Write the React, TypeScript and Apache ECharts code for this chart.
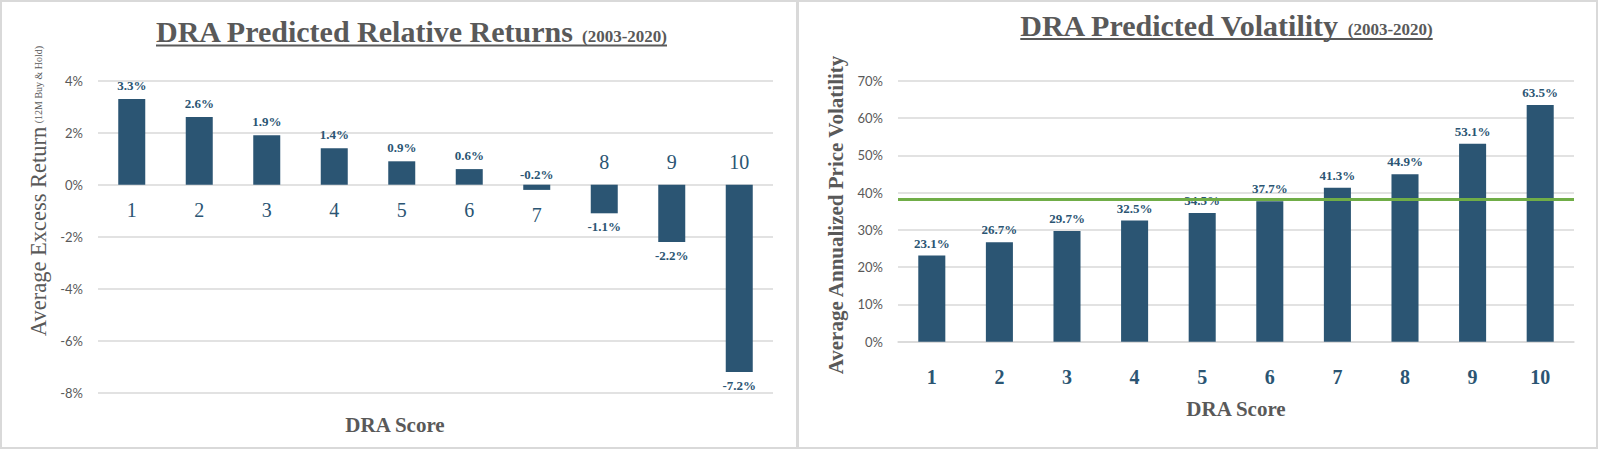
import React, { useEffect, useRef } from 'react';
import * as echarts from 'echarts';

// ---------- data ----------
const categories = ['1', '2', '3', '4', '5', '6', '7', '8', '9', '10'];
const excessReturns = [3.3, 2.6, 1.9, 1.4, 0.9, 0.6, -0.2, -1.1, -2.2, -7.2];
const volatility = [23.1, 26.7, 29.7, 32.5, 34.5, 37.7, 41.3, 44.9, 53.1, 63.5];
const averageVolatility = 38.3;
const returnAxis = { min: -8, max: 4, interval: 2 };
const volatilityAxis = { min: 0, max: 70, interval: 10 };

const leftTitle = 'DRA Predicted Relative Returns';
const rightTitle = 'DRA Predicted Volatility';
const titlePeriod = '(2003-2020)';
const leftYName = 'Average Excess Return';
const leftYNameNote = '(12M Buy & Hold)';
const rightYName = 'Average Annualized Price Volatility';
const xName = 'DRA Score';

// ---------- styles ----------
const BAR = '#2B5573';
const GRID = '#D9D9D9';
const GREY = '#595959';
const GREEN = '#70AD47';
const SERIF = '"Liberation Serif", "DejaVu Serif", serif';
const SANS = 'Lato, "Open Sans", sans-serif';

// a bar that lies clearly below zero keeps its category label above the zero line
const isDeepNegative = (v: number) => v <= -0.5;

function measure(text: string, font: string): number {
  const ctx = document.createElement('canvas').getContext('2d');
  if (!ctx) return text.length * 10;
  ctx.font = font;
  return ctx.measureText(text).width;
}

function titleGraphic(cx: number, baseline: number, main: string, mainSize: number, sub: string, subSize: number) {
  const mainW = measure(main, `bold ${mainSize}px "Liberation Serif"`);
  const subW = measure(sub, `bold ${subSize}px "Liberation Serif"`);
  const gap = mainSize * 0.25;
  const total = mainW + gap + subW;
  const x0 = cx - total / 2;
  return [
    {
      type: 'text',
      x: x0,
      y: baseline - mainSize * 0.34,
      style: { text: main, fontFamily: SERIF, fontWeight: 'bold', fontSize: mainSize, fill: GREY, align: 'left', verticalAlign: 'middle' },
    },
    {
      type: 'text',
      x: x0 + mainW + gap,
      y: baseline - subSize * 0.34,
      style: { text: sub, fontFamily: SERIF, fontWeight: 'bold', fontSize: subSize, fill: GREY, align: 'left', verticalAlign: 'middle' },
    },
    {
      type: 'line',
      shape: { x1: x0, y1: baseline + 3.5, x2: x0 + total, y2: baseline + 3.5 },
      style: { stroke: GREY, lineWidth: 2 },
    },
  ];
}

function buildOption() {
  const valueLabel = (p: any) => `${Number(p.value).toFixed(1)}%`;
  const yAxisCommon = {
    type: 'value',
    axisLine: { show: false },
    axisTick: { show: false },
    splitLine: { lineStyle: { color: GRID, width: 1.5 } },
    axisLabel: { formatter: '{value}%', color: GREY, fontFamily: SANS, fontSize: 13, margin: 15 },
  };

  return {
    animation: false,
    backgroundColor: '#FFFFFF',
    grid: [
      { left: 98, right: 827, top: 80.7, bottom: 60.3, outerBoundsMode: 'none' },
      { left: 898, right: 26, top: 80.7, bottom: 111.3, outerBoundsMode: 'none' },
    ],
    xAxis: [
      {
        // category names of the returns chart are drawn at the zero line by the label series below
        gridIndex: 0,
        type: 'category',
        data: categories,
        axisLine: { show: false },
        axisTick: { show: false },
        axisLabel: { show: false },
      },
      {
        gridIndex: 1,
        type: 'category',
        data: categories,
        axisLine: { lineStyle: { color: GRID, width: 1.5 } },
        axisTick: { show: false },
        axisLabel: { interval: 0, margin: 25, color: BAR, fontFamily: SERIF, fontWeight: 'bold', fontSize: 20 },
      },
    ],
    yAxis: [
      { ...yAxisCommon, gridIndex: 0, min: returnAxis.min, max: returnAxis.max, interval: returnAxis.interval },
      { ...yAxisCommon, gridIndex: 1, min: volatilityAxis.min, max: volatilityAxis.max, interval: volatilityAxis.interval },
    ],
    series: [
      {
        name: 'Average Excess Return',
        type: 'bar',
        xAxisIndex: 0,
        yAxisIndex: 0,
        barWidth: '40%',
        itemStyle: { color: BAR },
        label: { show: true, formatter: valueLabel, color: BAR, fontFamily: SERIF, fontWeight: 'bold', fontSize: 13 },
        data: excessReturns.map((v) => ({
          value: v,
          label: isDeepNegative(v)
            ? { position: 'bottom', distance: 7 }
            : { position: 'top', distance: v < 0 ? 4 : 7 },
        })),
      },
      {
        // DRA score labels, placed on the side of the zero line opposite to the bar
        name: 'DRA Score labels',
        type: 'bar',
        xAxisIndex: 0,
        yAxisIndex: 0,
        barWidth: '40%',
        barGap: '-100%',
        silent: true,
        itemStyle: { color: 'rgba(0,0,0,0)' },
        label: { show: true, formatter: (p: any) => p.name, color: BAR, fontFamily: SERIF, fontSize: 20 },
        data: excessReturns.map((v) => ({
          value: v,
          label: isDeepNegative(v) ? { position: 'top', distance: 13 } : { position: 'bottom', distance: 15 },
        })),
      },
      {
        name: 'Average Annualized Price Volatility',
        type: 'bar',
        xAxisIndex: 1,
        yAxisIndex: 1,
        barWidth: '40%',
        itemStyle: { color: BAR },
        label: { show: true, position: 'top', distance: 6, formatter: valueLabel, color: BAR, fontFamily: SERIF, fontWeight: 'bold', fontSize: 13 },
        data: volatility,
        markLine: {
          silent: true,
          symbol: 'none',
          label: { show: false },
          lineStyle: { color: GREEN, width: 3, type: 'solid' },
          data: [{ yAxis: averageVolatility }],
        },
      },
    ],
    graphic: [
      { type: 'rect', shape: { x: 1, y: 1, width: 796, height: 447 }, style: { fill: 'transparent', stroke: GRID, lineWidth: 2 }, z: -1 },
      { type: 'rect', shape: { x: 798, y: 1, width: 799, height: 447 }, style: { fill: 'transparent', stroke: GRID, lineWidth: 2 }, z: -1 },
      ...titleGraphic(411.5, 42, leftTitle, 30, titlePeriod, 17),
      ...titleGraphic(1226.5, 35.5, rightTitle, 30, titlePeriod, 17),
      {
        type: 'text',
        x: 38,
        y: 191,
        rotation: Math.PI / 2,
        style: {
          text: `{a|${leftYName}} {b|${leftYNameNote}}`,
          rich: {
            a: { fontFamily: SERIF, fontSize: 22.5, fill: GREY },
            b: { fontFamily: SERIF, fontSize: 10, fill: GREY },
          },
          align: 'center',
          verticalAlign: 'middle',
        },
      },
      {
        type: 'text',
        x: 836,
        y: 215,
        rotation: Math.PI / 2,
        style: { text: rightYName, fontFamily: SERIF, fontWeight: 'bold', fontSize: 21, fill: GREY, align: 'center', verticalAlign: 'middle' },
      },
      {
        type: 'text',
        x: 395,
        y: 425,
        style: { text: xName, fontFamily: SERIF, fontWeight: 'bold', fontSize: 21, fill: GREY, align: 'center', verticalAlign: 'middle' },
      },
      {
        type: 'text',
        x: 1236,
        y: 409,
        style: { text: xName, fontFamily: SERIF, fontWeight: 'bold', fontSize: 21, fill: GREY, align: 'center', verticalAlign: 'middle' },
      },
    ],
  };
}

export default function App() {
  const ref = useRef<HTMLDivElement>(null);
  useEffect(() => {
    document.body.style.margin = '0';
    if (!ref.current) return;
    const chart = echarts.init(ref.current, null, { renderer: 'svg' });
    chart.setOption(buildOption() as any);
    return () => chart.dispose();
  }, []);
  return <div ref={ref} style={{ width: 1600, height: 453 }} />;
}
